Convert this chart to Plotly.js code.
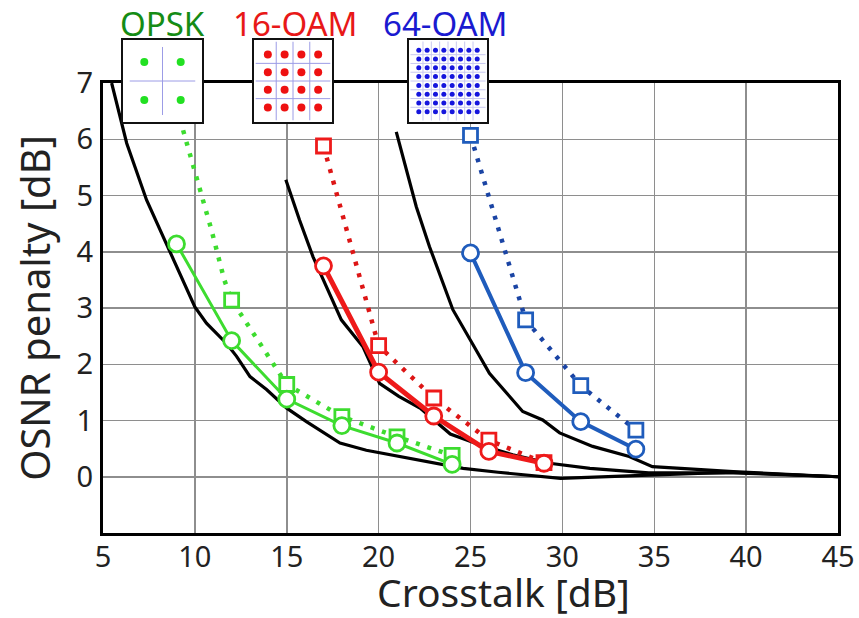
<!DOCTYPE html>
<html>
<head>
<meta charset="utf-8">
<script src="https://cdn.plot.ly/plotly-3.0.1.min.js"></script>
<style>html,body{margin:0;padding:0;background:#fff;}#chart{width:859px;height:618px;}</style>
</head>
<body>
<div id="chart"></div>
<script>
// ---------- axis ticks ----------
const xTicks = [5, 10, 15, 20, 25, 30, 35, 40, 45];
const yTicks = [0, 1, 2, 3, 4, 5, 6, 7];

// ---------- black theory curves ----------
const theoryQpskX = [5.47, 6.29, 7.37, 8.1, 8.64, 9.36, 10.0, 10.63, 11.72, 12.27, 13.0, 13.9, 15.0, 16.07, 17.9, 19.33, 21.14, 22.95, 24.6, 26.5, 28.6, 29.9, 34.7, 39.3, 45];
const theoryQpskY = [7.0, 5.93, 4.92, 4.39, 4.03, 3.5, 3.02, 2.73, 2.37, 2.14, 1.78, 1.55, 1.22, 0.98, 0.60, 0.47, 0.36, 0.24, 0.15, 0.08, 0.02, -0.03, 0.03, 0.08, 0.0];
const theory16X = [14.95, 15.7, 16.43, 17.16, 17.97, 19.15, 20.05, 21.1, 22.3, 23.9, 25.5, 27.3, 29.3, 31.5, 34.7, 39.3, 45];
const theory16Y = [5.28, 4.56, 3.91, 3.38, 2.79, 2.31, 1.66, 1.43, 1.21, 0.76, 0.57, 0.39, 0.24, 0.15, 0.07, 0.07, 0.0];
const theory64X = [20.96, 21.5, 22.05, 22.77, 23.5, 24.04, 25.1, 26.03, 27.84, 28.93, 29.85, 31.65, 33.64, 34.9, 39.3, 45];
const theory64Y = [6.13, 5.45, 4.8, 4.09, 3.44, 2.97, 2.37, 1.84, 1.16, 1.01, 0.78, 0.54, 0.36, 0.18, 0.09, 0.0];

// ---------- measured data ----------
const qpskCircleX = [9, 12, 15, 18, 21, 24];
const qpskCircleY = [4.14, 2.42, 1.38, 0.91, 0.60, 0.22];
const qpskSquareX = [12, 15, 18, 21, 24];
const qpskSquareY = [3.14, 1.64, 1.07, 0.71, 0.38];
const qpskDotLineX = [9.36, 9.82, 10.23, 10.9, 11.6, 12, 15, 18, 21, 24];
const qpskDotLineY = [6.16, 5.63, 5.1, 4.39, 3.5, 3.14, 1.64, 1.07, 0.71, 0.38];

const qam16X = [17, 20, 23, 26, 29];
const qam16CircleY = [3.75, 1.86, 1.08, 0.45, 0.24];
const qam16SquareY = [5.88, 2.33, 1.40, 0.65, 0.25];

const qam64X = [25, 28, 31, 34];
const qam64CircleY = [3.98, 1.85, 0.98, 0.49];
const qam64SquareY = [6.07, 2.79, 1.62, 0.83];

// ---------- constellation insets ----------
const insetLabels = ['OPSK', '16-OAM', '64-OAM'];
const insetLevels = [[-1, 1], [-3, -1, 1, 3], [-7, -5, -3, -1, 1, 3, 5, 7]];
const insetGuides = [[0], [-2, 0, 2], [-6, -4, -2, 0, 2, 4, 6]];
const insetHalfRange = [2.17, 4.65, 9.35];
const insetGuideHalf = [1.8, 4.45, 9.0];

// ---------- colours / styles ----------
const cGreen = '#3ddc2f', cRed = '#ee1a1a', cRedDot = '#dd1515', cBlue = '#1f5cbc', cBlueDot = '#1a44a4';
const labelColors = ['#158c15', '#e81818', '#1a1ad0'];
const dotColors = ['#22e022', '#ee1111', '#1515dd'];
const dotSizes = [8, 8, 5];
const FONT = 'Noto Sans, Open Sans, sans-serif';

const traces = [];
function theory(x, y) {
  traces.push({x: x, y: y, type: 'scatter', mode: 'lines', line: {color: '#000', width: 3.2}, xaxis: 'x', yaxis: 'y', hoverinfo: 'skip'});
}
theory(theoryQpskX, theoryQpskY);
theory(theory16X, theory16Y);
theory(theory64X, theory64Y);

function dotted(x, y, color, w) {
  traces.push({x: x, y: y, type: 'scatter', mode: 'lines', line: {color: color, width: w, dash: '4px,8px'}, xaxis: 'x', yaxis: 'y'});
}
function solid(x, y, color, w) {
  traces.push({x: x, y: y, type: 'scatter', mode: 'lines', line: {color: color, width: w}, xaxis: 'x', yaxis: 'y'});
}
function markers(x, y, color, symbol, size) {
  traces.push({x: x, y: y, type: 'scatter', mode: 'markers', cliponaxis: false,
    marker: {symbol: symbol, size: size, color: '#fff', line: {color: color, width: 2.8}}, xaxis: 'x', yaxis: 'y'});
}
// QPSK
dotted(qpskDotLineX, qpskDotLineY, cGreen, 4.5);
markers(qpskSquareX, qpskSquareY, cGreen, 'square', 14);
solid(qpskCircleX, qpskCircleY, cGreen, 3);
markers(qpskCircleX, qpskCircleY, cGreen, 'circle', 16);
// 16-QAM
dotted(qam16X, qam16SquareY, cRedDot, 4.5);
markers(qam16X, qam16SquareY, cRed, 'square', 14);
solid(qam16X, qam16CircleY, cRed, 5);
markers(qam16X, qam16CircleY, cRed, 'circle', 16);
// 64-QAM
dotted(qam64X, qam64SquareY, cBlueDot, 4.5);
markers(qam64X, qam64SquareY, cBlue, 'square', 14);
solid(qam64X, qam64CircleY, cBlue, 4);
markers(qam64X, qam64CircleY, cBlue, 'circle', 16);

// ---------- layout geometry ----------
const W = 859, H = 618, ML = 103, MR = 21, MT = 10, MB = 85;
const PW = W - ML - MR, PH = H - MT - MB;
const px2x = p => (p - ML) / PW;
const px2y = p => (H - MB - p) / PH;

const layout = {
  width: W, height: H,
  margin: {l: ML, r: MR, t: MT, b: MB, pad: 0},
  paper_bgcolor: '#fff', plot_bgcolor: '#fff',
  showlegend: false,
  font: {family: FONT, color: '#222'},
  xaxis: {
    domain: [0, 1], range: [5, 45], anchor: 'y',
    tickvals: xTicks, ticktext: xTicks.map(String), ticks: '',
    ticklabelstandoff: -4,
    tickfont: {family: FONT, size: 29, color: '#222'},
    showgrid: true, gridcolor: '#8e8e8e', gridwidth: 1.5, zeroline: false,
    showline: true, mirror: true, linecolor: '#000', linewidth: 3
  },
  yaxis: {
    domain: [0, px2y(83)], range: [-1, 7], anchor: 'x',
    tickvals: yTicks, ticktext: yTicks.map(String), ticks: '',
    ticklabelstandoff: 1,
    tickfont: {family: FONT, size: 29, color: '#222'},
    showgrid: true, gridcolor: '#8e8e8e', gridwidth: 1.5, zeroline: false,
    showline: true, mirror: true, linecolor: '#000', linewidth: 3,
    title: {text: 'OSNR penalty [dB]', font: {family: FONT, size: 40, color: '#222'}, standoff: 14}
  },
  annotations: [
    {text: 'Crosstalk [dB]', xref: 'paper', yref: 'paper', x: px2x(503), y: px2y(592),
     xanchor: 'center', yanchor: 'middle', showarrow: false, font: {family: FONT, size: 39, color: '#222'}}
  ]
};

// inset boxes (pixel extents)
const insetBoxX = [[123, 202], [254, 332], [409, 487]];
const insetBoxY = [40, 122];
const insetLabelX = [162, 295, 445];

insetLabels.forEach((lab, i) => {
  const n = i + 2;
  const xa = 'x' + n, ya = 'y' + n;
  const R = insetHalfRange[i], G = insetGuideHalf[i];
  layout['xaxis' + n] = {domain: [px2x(insetBoxX[i][0]), px2x(insetBoxX[i][1])], range: [-R, R], anchor: ya,
    showgrid: false, zeroline: false, showticklabels: false, ticks: '', fixedrange: true,
    showline: true, mirror: true, linecolor: '#111', linewidth: 2.2};
  layout['yaxis' + n] = {domain: [px2y(insetBoxY[1]), px2y(insetBoxY[0])], range: [-R, R], anchor: xa,
    showgrid: false, zeroline: false, showticklabels: false, ticks: '', fixedrange: true,
    showline: true, mirror: true, linecolor: '#111', linewidth: 2.2};
  // white background
  traces.push({x: [-R, R, R, -R, -R], y: [-R, -R, R, R, -R], type: 'scatter', mode: 'lines', fill: 'toself',
    fillcolor: '#fff', line: {width: 0, color: '#fff'}, xaxis: xa, yaxis: ya, hoverinfo: 'skip'});
  // guide lines
  const gx = [], gy = [];
  insetGuides[i].forEach(g => {
    gx.push(g, g, null, -G, G, null);
    gy.push(-G, G, null, g, g, null);
  });
  traces.push({x: gx, y: gy, type: 'scatter', mode: 'lines', line: {color: i === 2 ? '#c8c8f0' : '#9c9ce6', width: 1},
    xaxis: xa, yaxis: ya, hoverinfo: 'skip'});
  // constellation points
  const px = [], py = [];
  insetLevels[i].forEach(a => insetLevels[i].forEach(b => { px.push(a); py.push(b); }));
  traces.push({x: px, y: py, type: 'scatter', mode: 'markers', marker: {color: dotColors[i], size: dotSizes[i]},
    xaxis: xa, yaxis: ya, hoverinfo: 'skip'});
  layout.annotations.push({text: lab, xref: 'paper', yref: 'paper', x: px2x(insetLabelX[i]), y: px2y(23),
    xanchor: 'center', yanchor: 'middle', showarrow: false, font: {family: FONT, size: 33, color: labelColors[i]}});
});

Plotly.newPlot('chart', traces, layout, {staticPlot: true, displayModeBar: false});
</script>
</body>
</html>
